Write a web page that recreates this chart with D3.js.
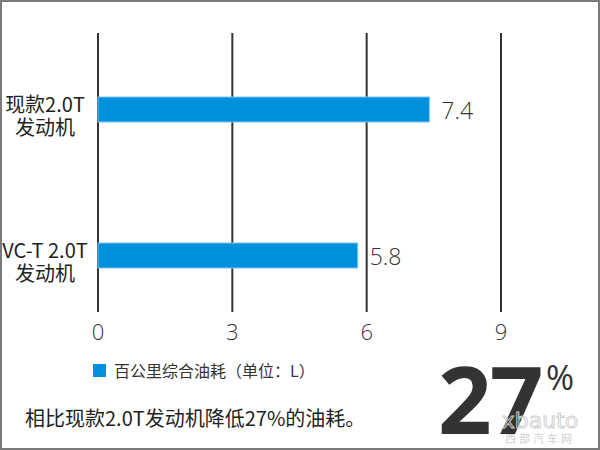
<!DOCTYPE html>
<html><head><meta charset="utf-8">
<script src="https://cdn.jsdelivr.net/npm/d3@7"></script>
<style>
html,body{margin:0;padding:0;background:#fff;}
svg{display:block;}
</style></head>
<body>
<script>
const categories = [["现款2.0T","发动机"],["VC-T 2.0T","发动机"]];
const values = [7.4, 5.8];
const ticks = [0, 3, 6, 9];
const legendLabel = "百公里综合油耗（单位：L）";
const note = "相比现款2.0T发动机降低27%的油耗。";
const bigNumber = "27";

const W = 600, H = 450;
const svg = d3.select("body").append("svg").attr("width", W).attr("height", H);
const cjk = "'Noto Sans CJK SC','Noto Sans',sans-serif";
const num = "'Open Sans','Liberation Sans',sans-serif";

svg.append("rect").attr("x",1).attr("y",1).attr("width",W-2).attr("height",H-2)
  .attr("fill","#fff").attr("stroke","#7a7a7a").attr("stroke-width",2);

const x = d3.scaleLinear().domain([0, 9]).range([98, 501]);

// gridlines
svg.append("g").selectAll("line").data(ticks).join("line")
  .attr("x1", d => x(d)).attr("x2", d => x(d))
  .attr("y1", 33).attr("y2", 312)
  .attr("stroke", "#333").attr("stroke-width", 2);

// tick labels
svg.append("g").selectAll("text").data(ticks).join("text")
  .attr("x", d => x(d)).attr("y", 340)
  .attr("text-anchor", "middle")
  .attr("font-family", num).attr("font-weight", 300).attr("font-size", 22).attr("fill", "#333")
  .text(d => d);

// bars
const barH = 25;
const barY = [97, 243];
svg.append("g").selectAll("rect").data(values).join("rect")
  .attr("x", x(0)).attr("y", (d,i) => barY[i])
  .attr("width", d => x(d) - x(0)).attr("height", barH)
  .attr("fill", "#0090dc").attr("stroke", "#7cc4ee").attr("stroke-width", 1);

// value labels
svg.append("g").selectAll("text").data(values).join("text")
  .attr("x", d => x(d) + 12).attr("y", (d,i) => barY[i] + barH/2 + 9)
  .attr("font-family", num).attr("font-weight", 300).attr("font-size", 23).attr("fill", "#333")
  .text(d => d.toFixed(1));

// category labels
const cg = svg.append("g");
categories.forEach((c, i) => {
  const t = cg.append("text").attr("text-anchor","middle")
    .attr("font-family", cjk).attr("font-size", 20).attr("fill", "#222");
  t.append("tspan").attr("x", 45).attr("y", barY[i] + 15).text(c[0]);
  t.append("tspan").attr("x", 45).attr("y", barY[i] + 38).text(c[1]);
});

// legend
svg.append("rect").attr("x", 93).attr("y", 364).attr("width", 13).attr("height", 13).attr("fill", "#0090dc");
svg.append("text").attr("x", 114).attr("y", 377)
  .attr("font-family", cjk).attr("font-size", 16).attr("fill", "#333").text(legendLabel);

// note
svg.append("text").attr("x", 25).attr("y", 426)
  .attr("font-family", cjk).attr("font-size", 20).attr("fill", "#222").text(note);

// big number
svg.append("text").attr("x", 438).attr("y", 434)
  .attr("font-family", "'Open Sans','DejaVu Sans',sans-serif").attr("font-weight", 700)
  .attr("font-size", 94).attr("letter-spacing", -2).attr("fill", "#333").text(bigNumber);
svg.append("text").attr("x", 546).attr("y", 390)
  .attr("font-family", "'Open Sans',sans-serif").attr("font-size", 34).attr("fill", "#333").text("%");

// watermark
svg.append("text").attr("x", 540).attr("y", 428).attr("text-anchor","middle")
  .attr("font-family", "'DejaVu Sans',sans-serif").attr("font-size", 22)
  .attr("fill", "none").attr("stroke", "#d0d0d0").attr("stroke-width", 1).text("xbauto");
svg.append("text").attr("x", 540).attr("y", 443).attr("text-anchor","middle")
  .attr("font-family", cjk).attr("font-size", 11).attr("letter-spacing", 3)
  .attr("fill", "#d0d0d0").text("西部汽车网");
</script>
</body></html>
